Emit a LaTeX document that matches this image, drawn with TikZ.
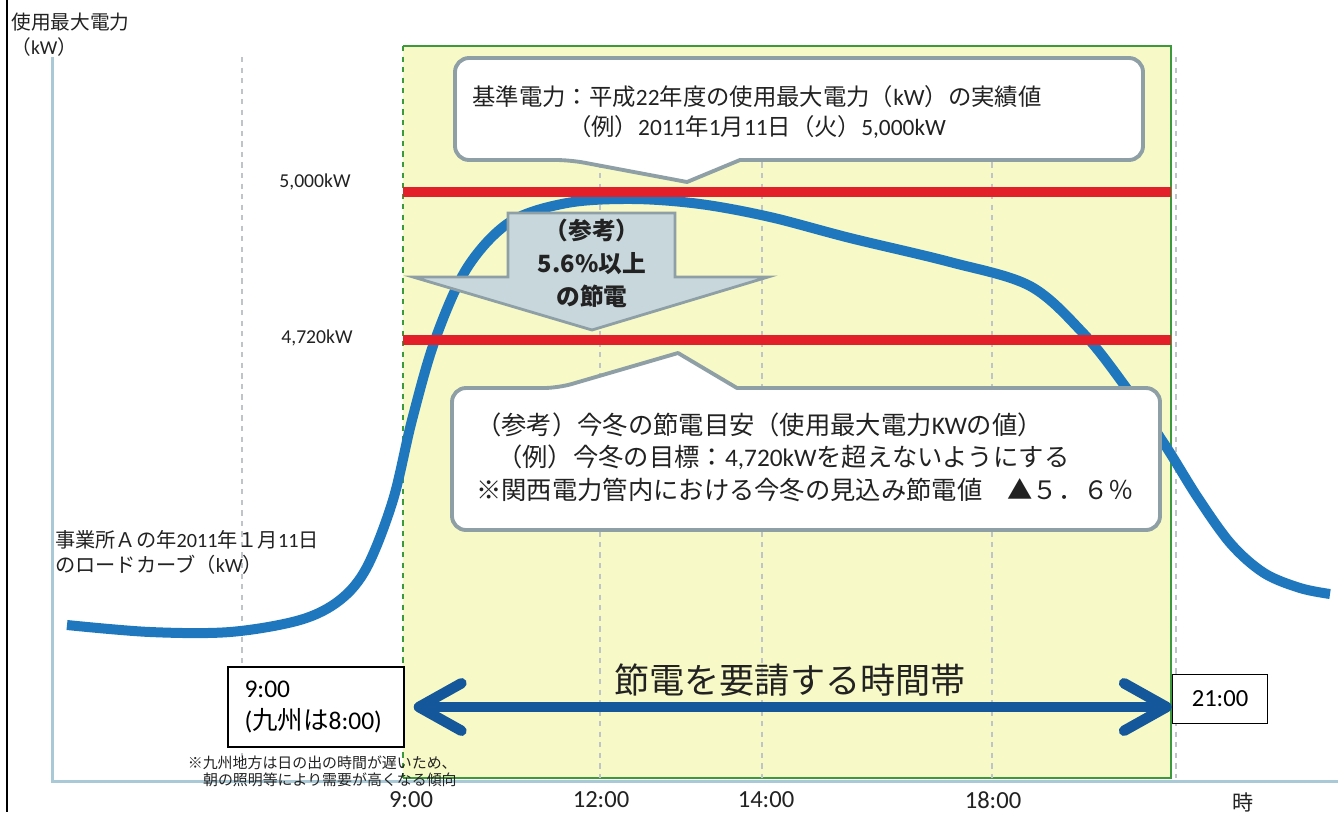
\documentclass[tikz,border=0pt]{standalone}
\usepackage{fontspec}
\setmainfont{Carlito}
\newfontfamily\jp{Noto Sans CJK JP}
\usetikzlibrary{arrows.meta}

\definecolor{bandyellow}{HTML}{F7F9C6}
\definecolor{bandgreen}{HTML}{3C9A3C}
\definecolor{gridgray}{HTML}{BFC4C8}
\definecolor{axisblue}{HTML}{A9C9D6}
\definecolor{limitred}{HTML}{E3202A}
\definecolor{loadblue}{HTML}{1F78BE}
\definecolor{arrowblue}{HTML}{14579A}
\definecolor{calloutgray}{HTML}{8E9FA6}
\definecolor{cutfill}{HTML}{C8D7DC}
\definecolor{ink}{HTML}{222222}

\tikzset{
  gridline/.style={draw=gridgray, dashed, line width=0.6pt},
  limit/.style={draw=limitred, line width=0.19cm},
  load/.style={draw=loadblue, line width=0.2cm},
  callout/.style={draw=calloutgray, line width=2.2pt, fill=white, line join=round},
  cutarrow/.style={draw=calloutgray, line width=1.6pt, fill=cutfill, line join=miter},
  timebox/.style={draw=black, line width=0.8pt, fill=white, inner sep=0pt},
  timearrow/.style={draw=arrowblue, line width=0.21cm,
    {Straight Barb[length=0.85cm, width=0.95cm, round]}-{Straight Barb[length=0.85cm, width=0.95cm, round]}},
  txt/.style={text=ink, inner sep=0pt}
}

\begin{document}
\begin{tikzpicture}[x=0.02cm, y=-0.02cm]
    \useasboundingbox (0,0) rectangle (1338,812);
    \fill[white] (0,0) rectangle (1338,812);

    % Banda del horario
    \fill[bandyellow] (403,46) rectangle (1171,778);
    \draw[bandgreen, line width=0.7pt] (403,46) -- (1171,46) -- (1171,778) -- (403,778);
    \draw[bandgreen, dashed, line width=0.7pt] (403,46) -- (403,778);

    % Rejilla y ejes
    \foreach \gx in {242,600,762,992,1176}
        \draw[gridline] (\gx,57) -- (\gx,778);
    \draw[black, line width=1.2pt] (7,0) -- (7,812);
    \draw[axisblue, line width=0.06cm] (52,57) -- (52,781) -- (1338,781);

    % Curva de carga
    \draw[load] plot[smooth, tension=0.55] coordinates {
        (67,625) (150,632) (230,632) (300,620) (340,600) (367,567) (393,500)
        (412,420) (435,340) (467,268) (510,222) (567,203) (633,199) (700,204)
        (770,217) (850,238) (950,262) (1030,286) (1083,333) (1122,382)
        (1165,445) (1198,498) (1231,544) (1264,573) (1300,588) (1330,594)};

    % Lineas de referencia
    \draw[limit] (403,192) -- (1171,192);
    \draw[limit] (403,340) -- (1171,340);
    \node[txt, font=\fontsize{11.2pt}{13pt}\selectfont] (lv5000) at (315,182) {5,000kW};
    \node[txt, font=\fontsize{11.2pt}{13pt}\selectfont] (lv4720) at (317,338) {4,720kW};

    % Rotulos del eje
    \node[txt, anchor=west, font=\fontsize{11.2pt}{13pt}\selectfont] (ylabel) at (11,22) {\jp 使用最大電力};
    \node[txt, anchor=west, font=\fontsize{11.2pt}{13pt}\selectfont] (yunit) at (11,47) {{\jp （}kW{\jp ）}};

    % Globos
    \draw[callout] (570,160) -- (687,182) -- (740,160) [rounded corners=0.28cm]
        -- (1143,160) -- (1143,58) -- (455,58) -- (455,160) -- cycle;
    \node[txt, align=center, font=\fontsize{13.3pt}{17pt}\selectfont] (kijun) at (757,112)
        {{\jp 基準電力：平成}22{\jp 年度の使用最大電力（}kW{\jp ）の実績値}\\
         {\jp （例）}2011{\jp 年}1{\jp 月}11{\jp 日（火）}5,000kW};

    \draw[callout] (558,388) -- (678,353) -- (737,388) [rounded corners=0.28cm]
        -- (1160,388) -- (1160,530) -- (452,530) -- (452,388) -- cycle;
    \node[txt, anchor=west, align=left, font=\fontsize{14.4pt}{18.5pt}\selectfont] (meyasu) at (476,457)
        {{\jp （参考）今冬の節電目安（使用最大電力}KW{\jp の値）}\\
         \hspace{0.42cm}{\jp （例）今冬の目標：}4,720kW{\jp を超えないようにする}\\
         {\jp ※関西電力管内における今冬の見込み節電値　▲５．６％}};

    % Flecha de ahorro
    \draw[cutarrow] (508,213) -- (675,213) -- (675,277) -- (768,277) -- (592,330)
        -- (413,277) -- (508,277) -- cycle;
    \node[txt, align=center, font=\jp\bfseries\fontsize{13.5pt}{18.8pt}\selectfont] (cut) at (592,263)
        {（参考）\\5.6\%以上\\の節電};

    % Etiqueta de la curva
    \node[txt, anchor=west, align=left, font=\fontsize{11.5pt}{14.2pt}\selectfont] (curvelabel) at (55,552)
        {{\jp 事業所Ａの年}2011{\jp 年１月}11{\jp 日}\\{\jp のロードカーブ（}kW{\jp ）}};

    % Horario
    \node[txt, anchor=south, font=\jp\fontsize{20pt}{24pt}\selectfont] (bandlabel) at (790,697) {節電を要請する時間帯};
    \node[timebox, minimum width=3.52cm, minimum height=1.6cm, text width=2.86cm, align=left,
          font=\fontsize{14.5pt}{18.2pt}\selectfont] (startbox) at (316,707)
        {9:00\\({\jp 九州は}8:00)};
    \node[timebox, minimum width=1.9cm, minimum height=0.98cm, font=\fontsize{14pt}{16pt}\selectfont]
        (endbox) at (1220,699) {21:00};
    \draw[timearrow, shorten <=0.18cm] (startbox.east) -- (startbox.east -| endbox.west);

    % Nota
    \node[txt, anchor=east, align=right, font=\jp\fontsize{8.5pt}{9.6pt}\selectfont] (note) at (457,771)
        {※九州地方は日の出の時間が遅いため、\\朝の照明等により需要が高くなる傾向};

    % Eje de tiempo
    \node[txt, font=\fontsize{14pt}{16pt}\selectfont] (t9) at (411,800) {9:00};
    \node[txt, font=\fontsize{14pt}{16pt}\selectfont] (t12) at (601,800) {12:00};
    \node[txt, font=\fontsize{14pt}{16pt}\selectfont] (t14) at (766,800) {14:00};
    \node[txt, font=\fontsize{14pt}{16pt}\selectfont] (t18) at (993,800) {18:00};
    \node[txt, font=\jp\fontsize{12pt}{14pt}\selectfont] (tunit) at (1243,802) {時};
\end{tikzpicture}
\end{document}
